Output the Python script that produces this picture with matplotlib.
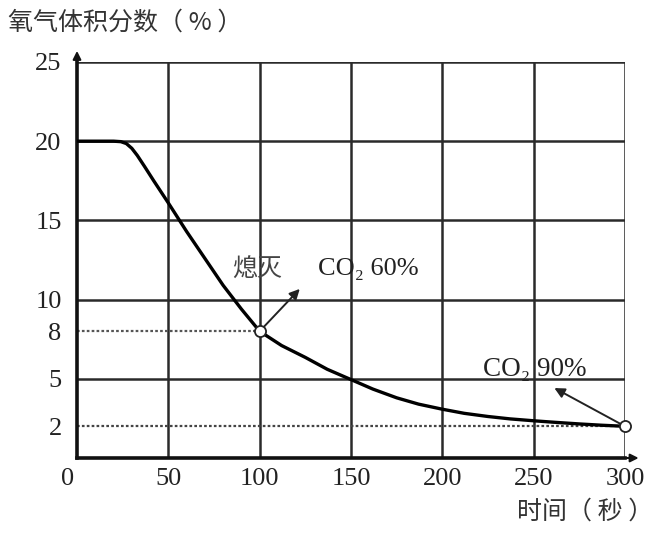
import matplotlib.pyplot as plt
from matplotlib.transforms import ScaledTranslation

plt.rcParams['font.family'] = ['Liberation Serif', 'Noto Sans CJK SC', 'DejaVu Serif']

# curve
t = [0, 10, 20, 24, 27, 30, 33, 37, 42, 50, 60, 70, 80, 90, 100, 112, 125,
     137, 150, 162, 175, 187, 200, 212, 225, 237, 250, 262, 275, 287, 300]
o2 = [20, 20, 20, 19.97, 19.85, 19.55, 19.1, 18.4, 17.5, 16.1, 14.3, 12.6, 10.9, 9.4, 8.0, 7.1, 6.35,
      5.6, 4.95, 4.35, 3.8, 3.4, 3.08, 2.82, 2.62, 2.47, 2.35, 2.25, 2.15, 2.07, 2.0]

x_ticks = [0, 50, 100, 150, 200, 250, 300]
y_ticks = [2, 5, 8, 10, 15, 20, 25]
grid_x = [50, 100, 150, 200, 250, 300]
grid_y = [5, 10, 15, 20, 25]

pts_t = [100, 300]
pts_o2 = [8, 2]

fig = plt.figure(figsize=(6.61, 5.38), dpi=100)
ax = fig.add_axes([0.1165, 0.1487, 0.829, 0.7361])
ax.set_xlim(0, 300)
ax.set_ylim(0, 25)

for gx in grid_x:
    ax.axvline(gx, color='#2a2a2a', lw=1.8, zorder=1)
for gy in grid_y:
    ax.axhline(gy, color='#2a2a2a', lw=1.8, zorder=1)

ax.plot([0, 100], [8, 8], ls=(0, (1.2, 1.0)), color='#555555', lw=1.6, zorder=2)
ax.plot([0, 300], [2, 2], ls=(0, (1.2, 1.0)), color='#444444', lw=1.6, zorder=2)

ax.plot(t, o2, color='black', lw=2.4, zorder=3, solid_capstyle='round', solid_joinstyle='round')
ax.plot(pts_t, pts_o2, 'o', ms=8, mfc='white', mec='#222222', mew=1.3, zorder=5, clip_on=False)

ax.annotate('', xy=(123, 10.8), xytext=(100, 8),
            arrowprops=dict(arrowstyle='-|>', color='#222222', lw=1.4, mutation_scale=15), zorder=4)
ax.text(85, 11.9, '熄灭', fontsize=18, ha='left', va='center', color='#444444',
        family=['Noto Sans CJK SC'])
ax.text(132, 11.9, 'CO₂ 60%', fontsize=19, ha='left', va='center', color='#222222')
ax.annotate('', xy=(260, 4.5), xytext=(300, 2),
            arrowprops=dict(arrowstyle='-|>', color='#222222', lw=1.4, mutation_scale=15), zorder=4)
ax.text(222, 5.6, 'CO₂ 90%', fontsize=19.5, ha='left', va='center', color='#222222')

for s in ['top', 'right']:
    ax.spines[s].set_visible(False)
for s in ['left', 'bottom']:
    ax.spines[s].set_linewidth(2.6)
    ax.spines[s].set_color('#111111')

# axis arrows
ax.annotate('', xy=(0, 1.035), xycoords='axes fraction', xytext=(0, 0.98),
            arrowprops=dict(arrowstyle='-|>', color='#111111', lw=1.5, mutation_scale=12))
ax.annotate('', xy=(1.03, 0), xycoords='axes fraction', xytext=(0.98, 0),
            arrowprops=dict(arrowstyle='-|>', color='#111111', lw=1.5, mutation_scale=12))

ax.set_xticks(x_ticks)
ax.set_yticks(y_ticks)
ax.tick_params(length=0, labelsize=19, colors='#222222')
ax.tick_params(axis='y', pad=11)
ax.tick_params(axis='x', pad=7)
zero = ax.get_xticklabels()[0]
zero.set_transform(zero.get_transform() + ScaledTranslation(-0.09, 0, fig.dpi_scale_trans))

fig.text(0.012, 0.958, '氧气体积分数（ % ）', fontsize=18, ha='left', va='center',
         family=['Noto Sans CJK SC'], color='#333333')
fig.text(0.988, 0.05, '时间（ 秒 ）', fontsize=18, ha='right', va='center',
         family=['Noto Sans CJK SC'], color='#333333')

fig.savefig('out.png', dpi=100)
